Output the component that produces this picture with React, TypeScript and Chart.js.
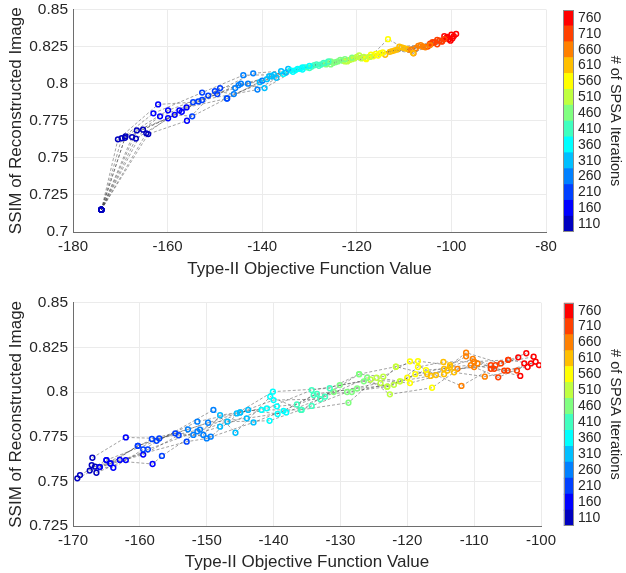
import React, { useEffect, useRef } from 'react';
import { Chart, registerables } from 'chart.js';

Chart.register(...registerables);

const FONT = '"Liberation Sans", Arial, Helvetica, sans-serif';
const TEXT = '#262626';
Chart.defaults.font.family = FONT;
Chart.defaults.color = TEXT;

if (typeof document !== 'undefined') document.body.style.margin = '0';

// SPSA iteration of each recorded point (also the colorbar tick values)
const iterations = [110, 160, 210, 260, 310, 360, 410, 460, 510, 560, 610, 660, 710, 760];
const colorbarLabels = iterations.map(String);
// MATLAB jet(14)
const jetColors = [
  'rgb(0,0,191)', 'rgb(0,0,255)', 'rgb(0,64,255)', 'rgb(0,128,255)', 'rgb(0,191,255)',
  'rgb(0,255,255)', 'rgb(64,255,191)', 'rgb(128,255,128)', 'rgb(191,255,64)', 'rgb(255,255,0)',
  'rgb(255,191,0)', 'rgb(255,128,0)', 'rgb(255,64,0)', 'rgb(255,0,0)',
];

// ---------- top panel ----------
const topStartX = -174;
const topStartY = 0.715;
const topStartIter = 60;

const topXTicks = [-180, -160, -140, -120, -100, -80];
const topYTicks = [0.7, 0.725, 0.75, 0.775, 0.8, 0.825, 0.85];

const topRunX = [
  [-170.5, -162.0, -154.6, -145.7, -138.5, -133.0, -128.0, -124.0, -120.0, -116.0, -111.5, -107.0, -103.0, -99.5],
  [-169.7, -163.0, -152.7, -144.0, -137.5, -131.5, -127.0, -122.5, -118.5, -114.5, -110.0, -106.0, -102.5, -100.0],
  [-168.9, -159.9, -151.4, -141.9, -136.0, -130.0, -126.0, -121.0, -117.2, -113.4, -108.1, -104.5, -101.5, -99.0],
  [-166.5, -159.9, -152.7, -141.0, -135.0, -132.0, -129.0, -125.0, -121.5, -117.0, -112.5, -108.5, -104.0, -100.5],
  [-165.2, -157.0, -148.9, -143.0, -139.0, -134.0, -130.5, -126.5, -122.0, -118.0, -113.0, -107.5, -103.5, -101.0],
  [-166.7, -156.0, -147.4, -140.0, -134.5, -131.0, -128.5, -123.5, -119.5, -116.5, -111.0, -106.5, -103.0, -100.2],
  [-164.1, -155.9, -150.0, -146.0, -137.0, -133.5, -127.5, -124.5, -120.5, -115.0, -109.5, -105.5, -102.0, -99.8],
  [-167.5, -161.6, -153.5, -144.5, -139.5, -132.5, -129.5, -125.5, -121.0, -117.5, -112.0, -108.0, -104.5, -101.5],
  [-169.0, -158.5, -154.8, -147.5, -140.5, -135.5, -130.0, -125.5, -122.5, -118.0, -114.0, -109.0, -105.0, -102.0],
  [-164.5, -157.5, -149.5, -145.0, -138.0, -131.5, -126.5, -123.0, -119.0, -115.5, -110.5, -106.0, -104.0, -100.8],
];
const topRunY = [
  [0.7625, 0.7860, 0.7875, 0.7970, 0.8050, 0.8090, 0.8120, 0.8150, 0.8180, 0.8200, 0.8230, 0.8255, 0.8295, 0.8320],
  [0.7632, 0.7800, 0.7940, 0.8057, 0.8060, 0.8110, 0.8140, 0.8165, 0.8180, 0.8210, 0.8240, 0.8250, 0.8290, 0.8330],
  [0.7645, 0.7820, 0.7920, 0.8070, 0.8085, 0.8120, 0.8150, 0.8175, 0.8180, 0.8300, 0.8206, 0.8260, 0.8300, 0.8335],
  [0.7685, 0.7767, 0.7890, 0.7960, 0.8075, 0.8100, 0.8125, 0.8140, 0.8160, 0.8195, 0.8220, 0.8230, 0.8275, 0.8300],
  [0.7690, 0.7810, 0.7970, 0.8000, 0.8030, 0.8090, 0.8110, 0.8130, 0.8150, 0.8170, 0.8215, 0.8240, 0.8280, 0.8310],
  [0.7630, 0.7840, 0.7900, 0.8020, 0.8100, 0.8110, 0.8130, 0.8160, 0.8190, 0.8185, 0.8250, 0.8260, 0.8265, 0.8290],
  [0.7660, 0.7750, 0.7950, 0.7930, 0.8040, 0.8080, 0.8130, 0.8145, 0.8170, 0.8205, 0.8235, 0.8245, 0.8285, 0.8305],
  [0.7640, 0.7780, 0.7880, 0.8000, 0.7970, 0.8100, 0.8115, 0.8150, 0.8165, 0.8180, 0.8225, 0.8205, 0.8270, 0.8320],
  [0.7635, 0.7790, 0.7780, 0.7900, 0.8010, 0.8065, 0.8105, 0.8130, 0.8150, 0.8165, 0.8195, 0.8230, 0.8250, 0.8285],
  [0.7665, 0.7820, 0.7930, 0.7990, 0.8050, 0.8095, 0.8140, 0.8155, 0.8170, 0.8190, 0.8245, 0.8250, 0.8280, 0.8315],
];

// ---------- bottom panel ----------
const bottomXTicks = [-170, -160, -150, -140, -130, -120, -110, -100];
const bottomYTicks = [0.725, 0.75, 0.775, 0.8, 0.825, 0.85];

const bottomRunX = [
  [-169.35, -166.0, -158.2, -152.8, -145.5, -140.1, -131.6, -127.2, -121.7, -118.4, -113.6, -111.2, -106.0, -102.2],
  [-168.95, -165.0, -157.5, -151.4, -145.0, -141.0, -134.3, -126.5, -123.0, -117.2, -114.5, -110.2, -107.5, -101.1],
  [-167.1, -162.1, -157.1, -151.0, -143.8, -139.4, -134.0, -128.3, -121.1, -118.4, -114.6, -110.0, -104.9, -100.3],
  [-167.2, -164.4, -160.3, -149.8, -144.0, -138.1, -132.3, -126.0, -122.6, -116.3, -113.0, -108.4, -103.6, -102.5],
  [-166.7, -163.97, -159.5, -149.0, -145.7, -140.5, -135.8, -127.2, -123.6, -119.6, -115.7, -111.9, -107.5, -103.1],
  [-166.5, -162.1, -158.8, -151.4, -146.9, -140.6, -134.3, -129.0, -123.0, -120.0, -114.0, -110.0, -106.4, -101.5],
  [-165.0, -158.1, -156.7, -152.0, -148.0, -141.8, -135.9, -128.8, -124.6, -121.1, -116.5, -111.2, -107.0, -103.4],
  [-164.4, -160.3, -154.7, -149.4, -145.0, -140.0, -133.0, -130.1, -125.5, -119.6, -114.5, -109.5, -105.5, -102.0],
  [-166.0, -159.5, -154.2, -150.5, -148.0, -139.5, -136.5, -131.0, -124.0, -121.7, -117.0, -112.5, -106.8, -104.9],
  [-167.5, -163.0, -153.0, -150.0, -143.0, -138.5, -133.5, -127.5, -122.0, -118.8, -113.6, -110.5, -105.0, -100.8],
];
const bottomRunY = [
  [0.7517, 0.7580, 0.7737, 0.7791, 0.7880, 0.8002, 0.8021, 0.8100, 0.8142, 0.8173, 0.8150, 0.8220, 0.8160, 0.8217],
  [0.7535, 0.7619, 0.7727, 0.7834, 0.7886, 0.7909, 0.8011, 0.8060, 0.8030, 0.8123, 0.8130, 0.8185, 0.8150, 0.8198],
  [0.7632, 0.7746, 0.7740, 0.7790, 0.7900, 0.7877, 0.7983, 0.8000, 0.8060, 0.8140, 0.8168, 0.8170, 0.8180, 0.8151],
  [0.7591, 0.7600, 0.7699, 0.7828, 0.7853, 0.7886, 0.7974, 0.8080, 0.7987, 0.8024, 0.8110, 0.8086, 0.8120, 0.8160],
  [0.7582, 0.7576, 0.7679, 0.7900, 0.7772, 0.7974, 0.7900, 0.8100, 0.8086, 0.8172, 0.8095, 0.8034, 0.8130, 0.8090],
  [0.7548, 0.7619, 0.7679, 0.7780, 0.7834, 0.7839, 0.7922, 0.8000, 0.8030, 0.8080, 0.8120, 0.8140, 0.8082, 0.8160],
  [0.7619, 0.7597, 0.7642, 0.7760, 0.7806, 0.7900, 0.7900, 0.7940, 0.8080, 0.8060, 0.8090, 0.8200, 0.8130, 0.8194],
  [0.7600, 0.7699, 0.7769, 0.7750, 0.7886, 0.7955, 0.7960, 0.8039, 0.8070, 0.8050, 0.8100, 0.8160, 0.8120, 0.8140],
  [0.7580, 0.7650, 0.7758, 0.7760, 0.7870, 0.7920, 0.7930, 0.8000, 0.8050, 0.8142, 0.8100, 0.8130, 0.8150, 0.8180],
  [0.7560, 0.7620, 0.7722, 0.7740, 0.7830, 0.7895, 0.7990, 0.8020, 0.8040, 0.8100, 0.8140, 0.8150, 0.8120, 0.8170],
];

const xTitle = 'Type-II Objective Function Value';
const yTitle = 'SSIM of Reconstructed Image';
const cbTitle = '# of SPSA Iterations';

const iterStep = iterations[1] - iterations[0];
function colorFor(it: number) {
  const idx = Math.min(jetColors.length - 1, Math.max(0, Math.round((it - iterations[0]) / iterStep)));
  return jetColors[idx];
}

type ScatterProps = {
  left: number; top: number; width: number; height: number;
  padTop: number; padRight: number; xAxisH: number; tickPad: number;
  xTicks: number[]; yTicks: number[];
  runX: number[][]; runY: number[][];
  start?: { x: number; y: number; iter: number };
};

function ScatterChart(p: ScatterProps) {
  const ref = useRef<HTMLCanvasElement>(null);
  useEffect(() => {
    const runs = p.runX.map((xs, r) => {
      const ys = p.runY[r];
      const pts = xs.map((x, i) => ({ x, y: ys[i] }));
      const its = [...iterations];
      if (p.start) {
        pts.unshift({ x: p.start.x, y: p.start.y });
        its.unshift(p.start.iter);
      }
      return { pts, its };
    });
    const lineSets = runs.map((r) => ({
      data: r.pts,
      showLine: true,
      borderColor: 'rgba(60,60,60,0.6)',
      borderWidth: 0.8,
      borderDash: [3, 2],
      pointRadius: 0,
      order: 2,
    }));
    const pointSets = runs.map((r) => ({
      data: r.pts,
      showLine: false,
      pointRadius: 2.4,
      pointBorderWidth: 1.5,
      pointBorderColor: r.its.map(colorFor),
      pointBackgroundColor: 'rgba(255,255,255,0)',
      order: 1,
    }));
    const chart = new Chart(ref.current as HTMLCanvasElement, {
      type: 'scatter',
      data: { datasets: [...lineSets, ...pointSets] as any },
      options: {
        responsive: false,
        animation: false,
        events: [],
        layout: { padding: { left: 0, top: p.padTop, right: p.padRight, bottom: 0 } },
        plugins: { legend: { display: false }, tooltip: { enabled: false } },
        scales: {
          x: {
            type: 'linear',
            min: p.xTicks[0],
            max: p.xTicks[p.xTicks.length - 1],
            afterBuildTicks: (s: any) => { s.ticks = p.xTicks.map((v) => ({ value: v })); },
            afterFit: (s: any) => { s.height = p.xAxisH; s.paddingLeft = 0; s.paddingRight = 0; },
            ticks: { padding: p.tickPad, autoSkip: false, maxRotation: 0, font: { size: 15 }, color: TEXT, callback: (v: any) => String(v) },
            grid: { color: '#ebebeb', drawTicks: false },
            border: { color: '#6e6e6e', width: 1 },
            title: { display: true, text: xTitle, font: { size: 17 }, color: TEXT, padding: { top: 0, bottom: 0 } },
          },
          y: {
            type: 'linear',
            min: p.yTicks[0],
            max: p.yTicks[p.yTicks.length - 1],
            afterBuildTicks: (s: any) => { s.ticks = p.yTicks.map((v) => ({ value: v })); },
            afterFit: (s: any) => { s.width = 73; s.paddingTop = 0; s.paddingBottom = 0; },
            ticks: { padding: 5, autoSkip: false, font: { size: 15.5 }, color: TEXT, callback: (v: any) => String(v) },
            grid: { color: '#ebebeb', drawTicks: false },
            border: { color: '#6e6e6e', width: 1 },
            title: { display: true, text: yTitle, font: { size: 17 }, color: TEXT, padding: { top: 6.3, bottom: 0 } },
          },
        },
      } as any,
    });
    return () => chart.destroy();
  }, []);
  return (
    <canvas
      ref={ref}
      width={p.width}
      height={p.height}
      style={{ position: 'absolute', left: p.left, top: p.top, width: p.width, height: p.height }}
    />
  );
}

const framePlugin = {
  id: 'cbFrame',
  afterDatasetsDraw(chart: any) {
    const { ctx, chartArea: a } = chart;
    ctx.save();
    ctx.strokeStyle = '#8c8c8c';
    ctx.lineWidth = 1;
    ctx.strokeRect(Math.round(a.left) + 0.5, Math.round(a.top) + 0.5, Math.round(a.right - a.left) - 1, Math.round(a.bottom - a.top) - 1);
    ctx.restore();
  },
};

type BarProps = { left: number; top: number; width: number; height: number; padTop: number; padBottom: number; padLeft: number };

function ColorBar(p: BarProps) {
  const ref = useRef<HTMLCanvasElement>(null);
  useEffect(() => {
    const half = iterStep / 2;
    const datasets = iterations.map((it, i) => ({
      data: [[it - half, it + half]],
      backgroundColor: jetColors[i],
      borderWidth: 0,
      barPercentage: 1,
      categoryPercentage: 1,
      grouped: false,
    }));
    const chart = new Chart(ref.current as HTMLCanvasElement, {
      type: 'bar',
      data: { labels: [''], datasets: datasets as any },
      options: {
        responsive: false,
        animation: false,
        events: [],
        layout: { padding: { left: p.padLeft, top: p.padTop, right: 0, bottom: p.padBottom } },
        plugins: { legend: { display: false }, tooltip: { enabled: false } },
        scales: {
          x: { display: false },
          y: {
            type: 'linear',
            position: 'right',
            min: iterations[0] - half,
            max: iterations[iterations.length - 1] + half,
            afterBuildTicks: (s: any) => { s.ticks = iterations.map((v) => ({ value: v })); },
            afterFit: (s: any) => { s.width = 52; s.paddingTop = 0; s.paddingBottom = 0; },
            ticks: { padding: 4, autoSkip: false, font: { size: 14 }, color: TEXT, callback: (_v: any, i: number) => colorbarLabels[i] },
            grid: { display: false, drawTicks: false },
            border: { display: false },
            title: { display: true, text: cbTitle, font: { size: 14.5 }, color: TEXT, padding: { top: 2.3, bottom: 0 } },
          },
        },
      } as any,
      plugins: [framePlugin],
    });
    return () => chart.destroy();
  }, []);
  return (
    <canvas
      ref={ref}
      width={p.width}
      height={p.height}
      style={{ position: 'absolute', left: p.left, top: p.top, width: p.width, height: p.height }}
    />
  );
}

export default function App() {
  return (
    <div style={{ position: 'relative', width: 626, height: 573, background: '#fff', overflow: 'hidden' }}>
      <ScatterChart
        left={0} top={0} width={562} height={280}
        padTop={9.5} padRight={16} xAxisH={48} tickPad={5.5}
        xTicks={topXTicks} yTicks={topYTicks}
        runX={topRunX} runY={topRunY}
        start={{ x: topStartX, y: topStartY, iter: topStartIter }}
      />
      <ColorBar left={555} top={0} width={71} height={280} padTop={10} padBottom={48} padLeft={8} />
      <ScatterChart
        left={0} top={290} width={562} height={283}
        padTop={12.7} padRight={21} xAxisH={47} tickPad={6}
        xTicks={bottomXTicks} yTicks={bottomYTicks}
        runX={bottomRunX} runY={bottomRunY}
      />
      <ColorBar left={555} top={290} width={71} height={283} padTop={12.7} padBottom={47} padLeft={8.7} />
    </div>
  );
}
